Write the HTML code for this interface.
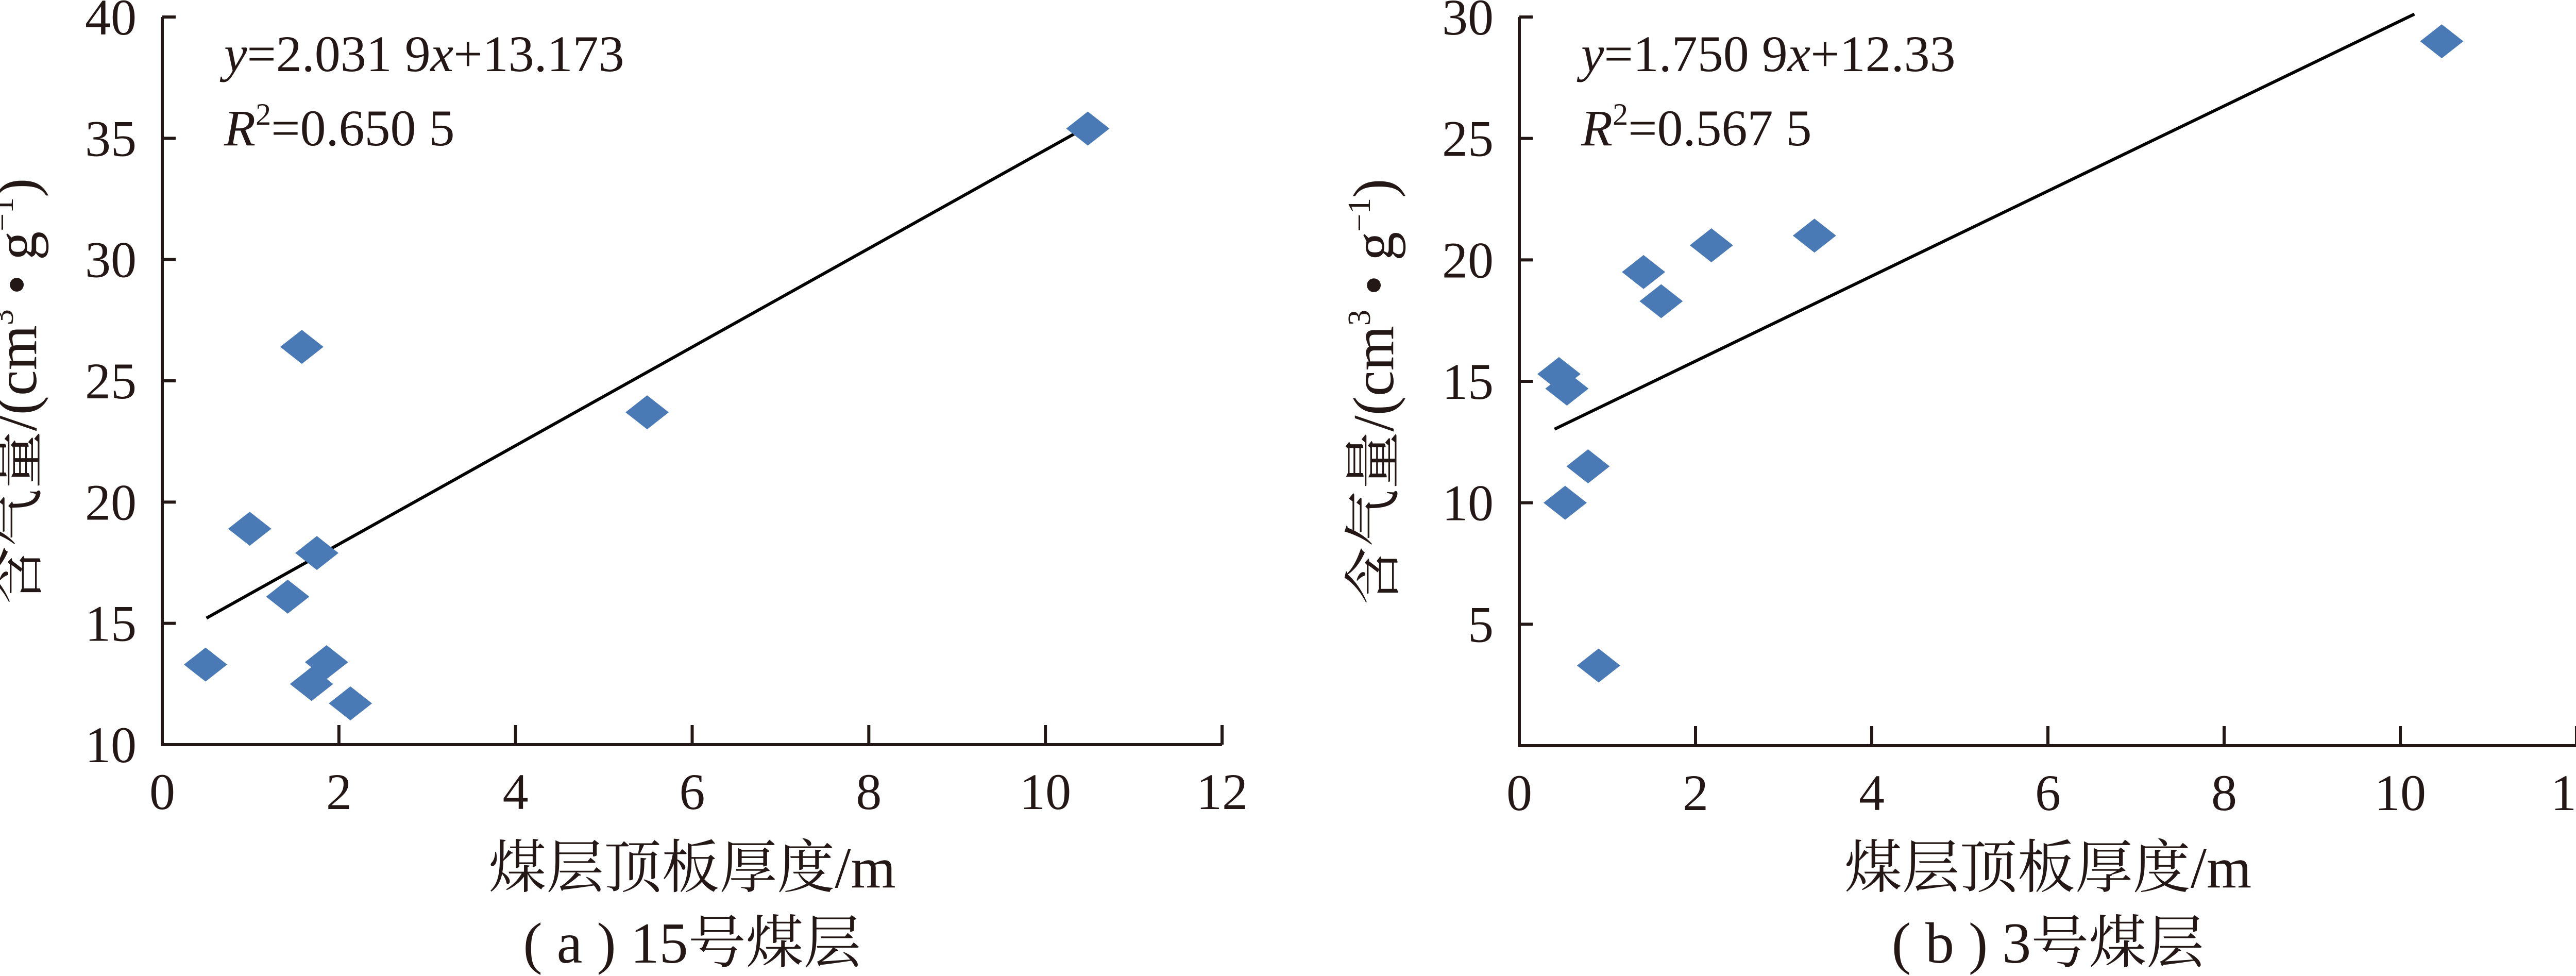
<!DOCTYPE html>
<html><head><meta charset="utf-8"><style>
html,body{margin:0;padding:0;background:#fff}
svg{display:block}
text{font-family:"Liberation Serif","Noto Serif CJK SC",serif;fill:#231815}
</style></head><body>
<svg id="svg" width="5032" height="1894" xmlns="http://www.w3.org/2000/svg"></svg>
<script>
const xTicks=[0,2,4,6,8,10,12];
const yTicksA=[10,15,20,25,30,35,40];
const yTicksB=[5,10,15,20,25,30];
const xA=[10.48,1.58,5.49,0.99,1.75,1.42,0.49,1.86,1.69,2.13];
const yA=[35.4,26.4,23.7,18.9,17.9,16.1,13.3,13.4,12.5,11.7];
const xB=[10.47,3.35,2.18,1.41,1.61,0.45,0.54,0.78,0.52,0.90];
const yB=[29.0,21.0,20.6,19.5,18.3,15.3,14.7,11.5,10.0,3.3];
const fitA=[2.0319,14.2];const fitRangeA=[0.5,10.5];
const fitB=[1.7509,12.33];const fitRangeB=[0.4,10.16];
const NS="http://www.w3.org/2000/svg";
const svg=document.getElementById('svg');
function mk(tag,attrs,parent){const e=document.createElementNS(NS,tag);for(const k in attrs)e.setAttribute(k,attrs[k]);(parent||svg).appendChild(e);return e;}
function chart(id,x0,x1,yTop,yBot,yMin,yMax,yTicks,xs,ys,fit,fr,eq,r2,cap){
  const g=mk('g',{});
  
  
  const sx=v=>x0+(v-0)/(12-0)*(x1-x0);
  const sy=v=>yBot-(v-yMin)/(yMax-yMin)*(yBot-yTop);
  const ax=mk('path',{d:`M${x0} ${yTop}V${yBot}H${x1}`,stroke:'#231815','stroke-width':6,fill:'none'},g);
  
  
  xTicks.forEach(t=>{
    if(t>0){const l=mk('line',{x1:sx(t),x2:sx(t),y1:yBot,y2:yBot-38,stroke:'#231815','stroke-width':6},g);
    
    }
    const tx=mk('text',{x:sx(t),y:yBot+125,'text-anchor':'middle','font-size':100},g);
    tx.textContent=t;
    
    
  });
  yTicks.forEach(t=>{
    const l=mk('line',{x1:x0,x2:x0+26,y1:sy(t),y2:sy(t),stroke:'#231815','stroke-width':6},g);
    
    
    const tx=mk('text',{x:x0-50,y:sy(t)+34,'text-anchor':'end','font-size':100},g);
    tx.textContent=t;
    
    
  });
  const fl=mk('line',{x1:sx(fr[0]),y1:sy(fit[0]*fr[0]+fit[1]),x2:sx(fr[1]),y2:sy(fit[0]*fr[1]+fit[1]),stroke:'#000','stroke-width':6},g);
  
  
  xs.forEach((v,i)=>{
    const cx=sx(v),cy=sy(ys[i]);
    const p=mk('polygon',{points:`${cx},${cy-33} ${cx+42},${cy} ${cx},${cy+33} ${cx-42},${cy}`,fill:'#4a7ab5'},g);
    
    
  });
  const e1=mk('text',{x:x0+120,y:138,'font-size':100},g);
  e1.innerHTML=eq;
  
  
  const e2=mk('text',{x:x0+120,y:282,'font-size':100},g);
  e2.innerHTML=r2;
  
  
  const xt=mk('text',{x:(x0+x1)/2,y:1722,'text-anchor':'middle','font-size':112},g);
  xt.textContent='煤层顶板厚度/m';
  
  
  const yx=x0-245,yy=(yTop+yBot)/2+20;
  const yt=mk('text',{x:yx,y:yy,'text-anchor':'middle','font-size':112,transform:`rotate(-90 ${yx} ${yy})`},g);
  yt.innerHTML='含气量/(cm<tspan font-size="62" dy="-45">3</tspan><tspan dy="45"> • g</tspan><tspan font-size="62" dy="-45">−1</tspan><tspan dy="45">)</tspan>';
  
  
  const c=mk('text',{x:(x0+x1)/2,y:1868,'text-anchor':'middle','font-size':112},g);
  c.textContent=cap;
  
  
}
chart('chart-a',315,2372,33,1445,10,40,yTicksA,xA,yA,fitA,fitRangeA,
 '<tspan font-style="italic">y</tspan>=2.031 9<tspan font-style="italic">x</tspan>+13.173',
 '<tspan font-style="italic">R</tspan><tspan font-size="60" dy="-40">2</tspan><tspan dy="40">=0.650 5</tspan>','( a ) 15号煤层');
chart('chart-b',2949,5001,33,1447,0,30,yTicksB,xB,yB,fitB,fitRangeB,
 '<tspan font-style="italic">y</tspan>=1.750 9<tspan font-style="italic">x</tspan>+12.33',
 '<tspan font-style="italic">R</tspan><tspan font-size="60" dy="-40">2</tspan><tspan dy="40">=0.567 5</tspan>','( b ) 3号煤层');
</script>
</body></html>
